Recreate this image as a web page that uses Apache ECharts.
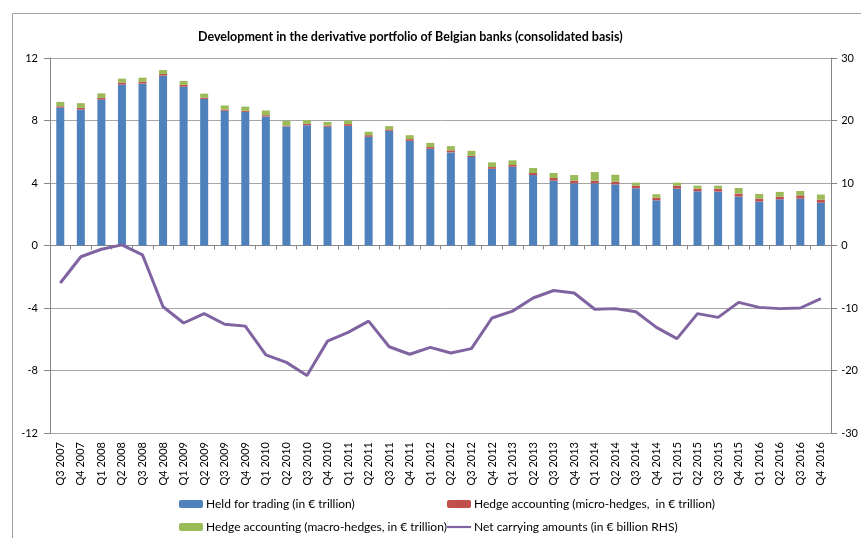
<!DOCTYPE html>
<html>
<head>
<meta charset="utf-8">
<script src="https://cdn.jsdelivr.net/npm/echarts@6/dist/echarts.min.js"></script>
<style>
  html, body { margin: 0; padding: 0; background: #fff; }
  #chart { width: 861px; height: 538px; }
</style>
</head>
<body>
<div id="chart"></div>
<script>
// quarters Q3 2007 .. Q4 2016
const quarters = [
  'Q3 2007', 'Q4 2007',
  'Q1 2008', 'Q2 2008', 'Q3 2008', 'Q4 2008',
  'Q1 2009', 'Q2 2009', 'Q3 2009', 'Q4 2009',
  'Q1 2010', 'Q2 2010', 'Q3 2010', 'Q4 2010',
  'Q1 2011', 'Q2 2011', 'Q3 2011', 'Q4 2011',
  'Q1 2012', 'Q2 2012', 'Q3 2012', 'Q4 2012',
  'Q1 2013', 'Q2 2013', 'Q3 2013', 'Q4 2013',
  'Q1 2014', 'Q2 2014', 'Q3 2014', 'Q4 2014',
  'Q1 2015', 'Q2 2015', 'Q3 2015', 'Q4 2015',
  'Q1 2016', 'Q2 2016', 'Q3 2016', 'Q4 2016'
]
// € trillion, left axis
const heldForTrading = [
  8.83, 8.70, 9.34, 10.30, 10.36, 10.87, 10.17, 9.38, 8.62, 8.55,
  8.26, 7.62, 7.70, 7.60, 7.66, 6.96, 7.34, 6.70, 6.19, 5.96,
  5.66, 4.91, 5.04, 4.51, 4.15, 3.98, 3.98, 3.91, 3.66, 2.89,
  3.64, 3.47, 3.45, 3.13, 2.81, 2.96, 3.00, 2.74
]
const microHedges = [
  0.08, 0.11, 0.11, 0.13, 0.13, 0.11, 0.11, 0.09, 0.08, 0.07,
  0.08, 0.06, 0.09, 0.08, 0.11, 0.10, 0.09, 0.11, 0.11, 0.13,
  0.08, 0.11, 0.11, 0.13, 0.17, 0.17, 0.17, 0.18, 0.17, 0.17,
  0.19, 0.17, 0.19, 0.19, 0.19, 0.17, 0.21, 0.20
]
const macroHedges = [
  0.28, 0.30, 0.29, 0.25, 0.25, 0.25, 0.25, 0.25, 0.26, 0.27,
  0.30, 0.30, 0.23, 0.23, 0.23, 0.22, 0.21, 0.25, 0.27, 0.27,
  0.32, 0.30, 0.30, 0.32, 0.32, 0.36, 0.55, 0.44, 0.19, 0.22,
  0.19, 0.19, 0.19, 0.36, 0.30, 0.30, 0.28, 0.32
]
// € billion, right axis
const netCarrying = [
  -6.0, -1.8, -0.6, 0.1, -1.5, -9.8, -12.4, -10.9, -12.6, -12.9,
  -17.5, -18.7, -20.8, -15.3, -13.9, -12.1, -16.2, -17.4, -16.3, -17.2,
  -16.5, -11.6, -10.5, -8.4, -7.2, -7.6, -10.2, -10.1, -10.6, -13.1,
  -14.9, -10.9, -11.5, -9.1, -9.9, -10.1, -10.0, -8.5
]

const FONT = 'Lato, "Liberation Sans", sans-serif'
const gridColor = '#a6a6a6'
const axisColor = '#868686'

const legendBase = {
  orient: 'vertical',
  top: 497,
  padding: 0,
  itemWidth: 24,
  itemHeight: 8,
  itemGap: 9,
  textStyle: { fontSize: 12, color: '#000', lineHeight: 14, padding: [0, 0, 0, -2] }
}

const chart = echarts.init(document.getElementById('chart'))
chart.setOption({
  animation: false,
  textStyle: { fontFamily: FONT },
  title: {
    text: 'Development in the derivative portfolio of Belgian banks (consolidated basis)',
    left: 193,
    top: 25,
    textStyle: { fontSize: 12.5, fontWeight: 'bold', color: '#000', fontFamily: FONT }
  },
  graphic: [
    {
      type: 'rect',
      shape: { x: 12.5, y: 13.5, width: 900, height: 600 },
      style: { fill: 'none', stroke: '#a0a0a0', lineWidth: 1 },
      silent: true
    }
  ],
  legend: [
    Object.assign({}, legendBase, {
      left: 179,
      data: ['Held for trading (in € trillion)', 'Hedge accounting (macro-hedges, in € trillion)']
    }),
    Object.assign({}, legendBase, {
      left: 447,
      data: [
        'Hedge accounting (micro-hedges,  in € trillion)',
        { name: 'Net carrying amounts (in € billion RHS)', icon: 'path://M0,0H24V2.2H0Z' }
      ]
    })
  ],
  grid: { left: 50, right: 24, top: 58, bottom: 105 },
  xAxis: [
    {
      type: 'category',
      data: quarters,
      position: 'bottom',
      axisLine: { show: false, onZero: false },
      axisTick: { show: false },
      axisLabel: { rotate: 90, interval: 0, fontSize: 11, color: '#000', margin: 9 }
    },
    {
      type: 'category',
      data: quarters,
      position: 'bottom',
      axisLine: { show: true, onZero: true, lineStyle: { color: axisColor } },
      axisTick: { show: true, length: 4, interval: 0, lineStyle: { color: axisColor } },
      axisLabel: { show: false }
    }
  ],
  yAxis: [
    {
      type: 'value',
      min: -12,
      max: 12,
      interval: 4,
      axisLine: { show: true, lineStyle: { color: axisColor } },
      axisTick: { show: true, length: 6, lineStyle: { color: axisColor } },
      axisLabel: { fontSize: 11, color: '#000', margin: 12 },
      splitLine: { show: true, lineStyle: { color: gridColor } }
    },
    {
      type: 'value',
      min: -30,
      max: 30,
      interval: 10,
      position: 'right',
      axisLine: { show: true, lineStyle: { color: axisColor } },
      axisTick: { show: true, length: 6, lineStyle: { color: axisColor } },
      axisLabel: { fontSize: 11, color: '#000', margin: 10 },
      splitLine: { show: false }
    }
  ],
  series: [
    {
      name: 'Held for trading (in € trillion)',
      type: 'bar',
      stack: 'portfolio',
      barWidth: 8,
      data: heldForTrading,
      itemStyle: { color: '#4f81bd' }
    },
    {
      name: 'Hedge accounting (micro-hedges,  in € trillion)',
      type: 'bar',
      stack: 'portfolio',
      barWidth: 8,
      data: microHedges,
      itemStyle: { color: '#c0504d' }
    },
    {
      name: 'Hedge accounting (macro-hedges, in € trillion)',
      type: 'bar',
      stack: 'portfolio',
      barWidth: 8,
      data: macroHedges,
      itemStyle: { color: '#9bbb59' }
    },
    {
      name: 'Net carrying amounts (in € billion RHS)',
      type: 'line',
      yAxisIndex: 1,
      data: netCarrying,
      symbol: 'none',
      lineStyle: { color: '#8064a2', width: 3 },
      itemStyle: { color: '#8064a2' },
      z: 5
    }
  ]
})
</script>
</body>
</html>
